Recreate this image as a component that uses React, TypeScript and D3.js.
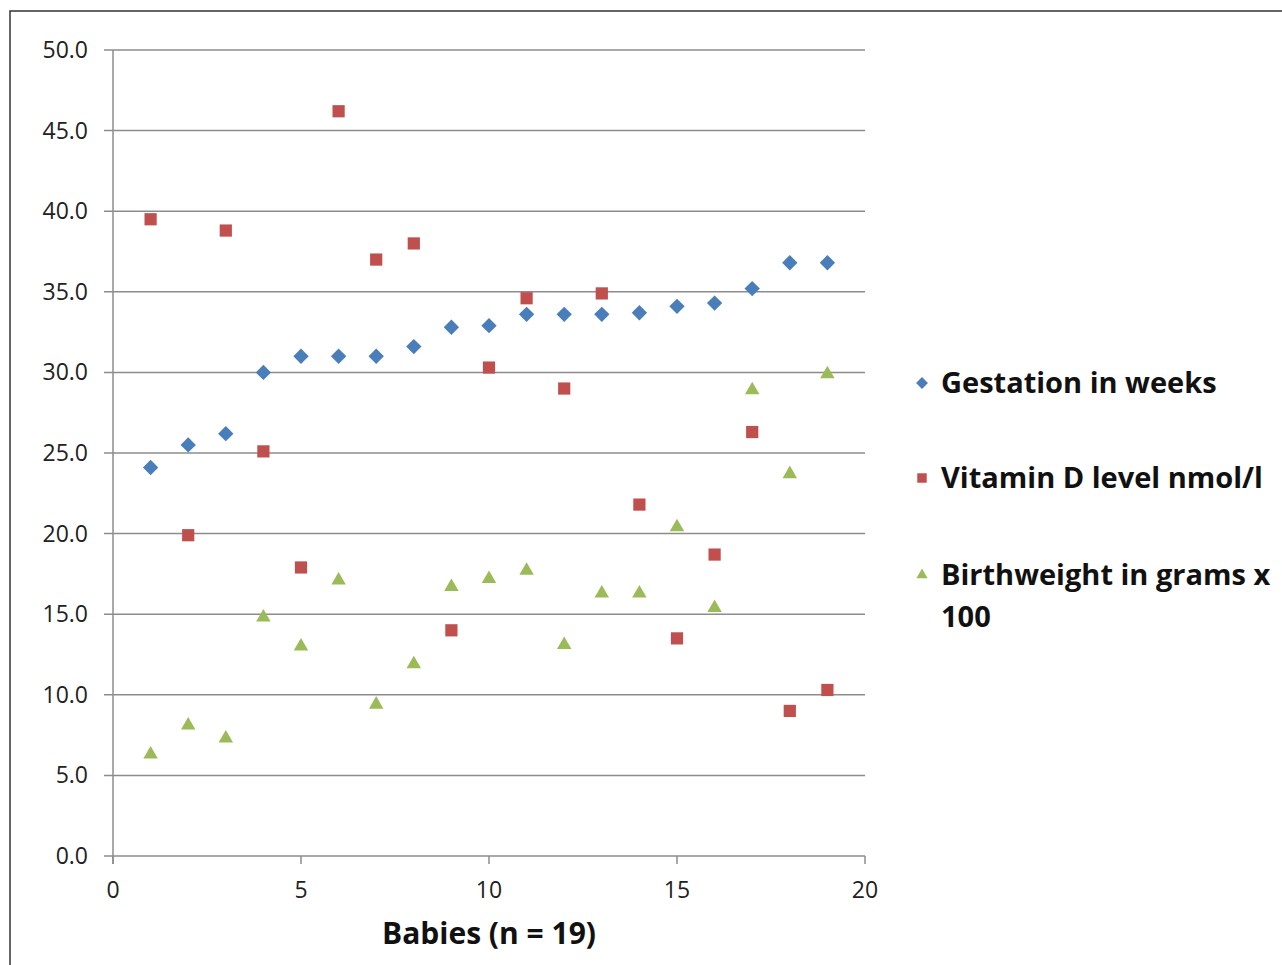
import { useRef, useEffect } from 'react';
import * as d3 from 'd3';

const babies = d3.range(1, 20);
const gestation = [24.1, 25.5, 26.2, 30.0, 31.0, 31.0, 31.0, 31.6, 32.8, 32.9, 33.6, 33.6, 33.6, 33.7, 34.1, 34.3, 35.2, 36.8, 36.8];
const vitaminD = [39.5, 19.9, 38.8, 25.1, 17.9, 46.2, 37.0, 38.0, 14.0, 30.3, 34.6, 29.0, 34.9, 21.8, 13.5, 18.7, 26.3, 9.0, 10.3];
const birthweight = [6.3, 8.1, 7.3, 14.8, 13.0, 17.1, 9.4, 11.9, 16.7, 17.2, 17.7, 13.1, 16.3, 16.3, 20.4, 15.4, 28.9, 23.7, 29.9];
const yTicks = d3.range(0, 51, 5);
const xTicks = [0, 5, 10, 15, 20];

const series = [
  { name: ['Gestation in weeks'], values: gestation, color: '#4a7ebb', shape: d3.symbolDiamond2, size: 150 },
  { name: ['Vitamin D level nmol/l'], values: vitaminD, color: '#c0504d', shape: d3.symbolSquare2, size: 190 },
  { name: ['Birthweight in grams x', '100'], values: birthweight, color: '#9bbb59', shape: d3.symbolTriangle2, size: 150 },
];

export default function App() {
  const svgRef = useRef<SVGSVGElement>(null);

  useEffect(() => {
    if (!svgRef.current) return;
    const svg = d3.select(svgRef.current);
    svg.selectAll('*').remove();

    const font = "'Open Sans', sans-serif";
    const x = d3.scaleLinear().domain([0, 20]).range([113, 865]);
    const y = d3.scaleLinear().domain([0, 50]).range([856, 50]);

    // outer frame
    svg.append('rect')
      .attr('x', 10).attr('y', 11)
      .attr('width', 1300).attr('height', 1000)
      .attr('fill', 'white')
      .attr('stroke', '#333').attr('stroke-width', 1.5);

    // gridlines + y ticks
    svg.append('g')
      .selectAll('line')
      .data(yTicks)
      .enter()
      .append('line')
      .attr('x1', 104).attr('x2', x(20))
      .attr('y1', d => y(d)).attr('y2', d => y(d))
      .attr('stroke', '#8c8c8c').attr('stroke-width', 1.5);

    svg.append('g')
      .selectAll('text')
      .data(yTicks)
      .enter()
      .append('text')
      .attr('x', 88).attr('y', d => y(d))
      .attr('dy', '0.35em')
      .attr('text-anchor', 'end')
      .attr('font-family', font).attr('font-size', 23)
      .attr('fill', '#222')
      .text(d => d.toFixed(1));

    // y axis line
    svg.append('line')
      .attr('x1', x(0)).attr('x2', x(0))
      .attr('y1', y(50)).attr('y2', y(0) + 8)
      .attr('stroke', '#8c8c8c').attr('stroke-width', 1.5);

    // x ticks
    svg.append('g')
      .selectAll('line')
      .data(xTicks)
      .enter()
      .append('line')
      .attr('x1', d => x(d)).attr('x2', d => x(d))
      .attr('y1', y(0)).attr('y2', y(0) + 8)
      .attr('stroke', '#8c8c8c').attr('stroke-width', 1.5);

    svg.append('g')
      .selectAll('text')
      .data(xTicks)
      .enter()
      .append('text')
      .attr('x', d => x(d)).attr('y', 890)
      .attr('dy', '0.35em')
      .attr('text-anchor', 'middle')
      .attr('font-family', font).attr('font-size', 23)
      .attr('fill', '#222')
      .text(d => d);

    svg.append('text')
      .attr('x', 489).attr('y', 933)
      .attr('dy', '0.35em')
      .attr('text-anchor', 'middle')
      .attr('font-family', font).attr('font-size', 30).attr('font-weight', 'bold')
      .attr('fill', '#111')
      .text('Babies (n = 19)');

    // markers
    series.forEach(s => {
      svg.append('g')
        .selectAll('path')
        .data(s.values)
        .enter()
        .append('path')
        .attr('transform', (d, i) => `translate(${x(babies[i])},${y(d)})`)
        .attr('d', d3.symbol().type(s.shape).size(s.size)())
        .attr('fill', s.color);
    });

    // legend
    const legendY = [383, 478, 575];
    series.forEach((s, i) => {
      const g = svg.append('g').attr('transform', `translate(922,${legendY[i]})`);
      g.append('path')
        .attr('d', d3.symbol().type(s.shape).size(s.size * 0.6)())
        .attr('fill', s.color);
      s.name.forEach((line, j) => {
        g.append('text')
          .attr('x', 19).attr('y', j * 42)
          .attr('dy', '0.35em')
          .attr('font-family', font).attr('font-size', 29).attr('font-weight', 'bold')
          .attr('fill', '#111')
          .text(line);
      });
    });
  }, []);

  return (
    <svg
      ref={svgRef}
      width={1282}
      height={965}
      style={{ position: 'absolute', left: 0, top: 0, background: 'white' }}
    />
  );
}
